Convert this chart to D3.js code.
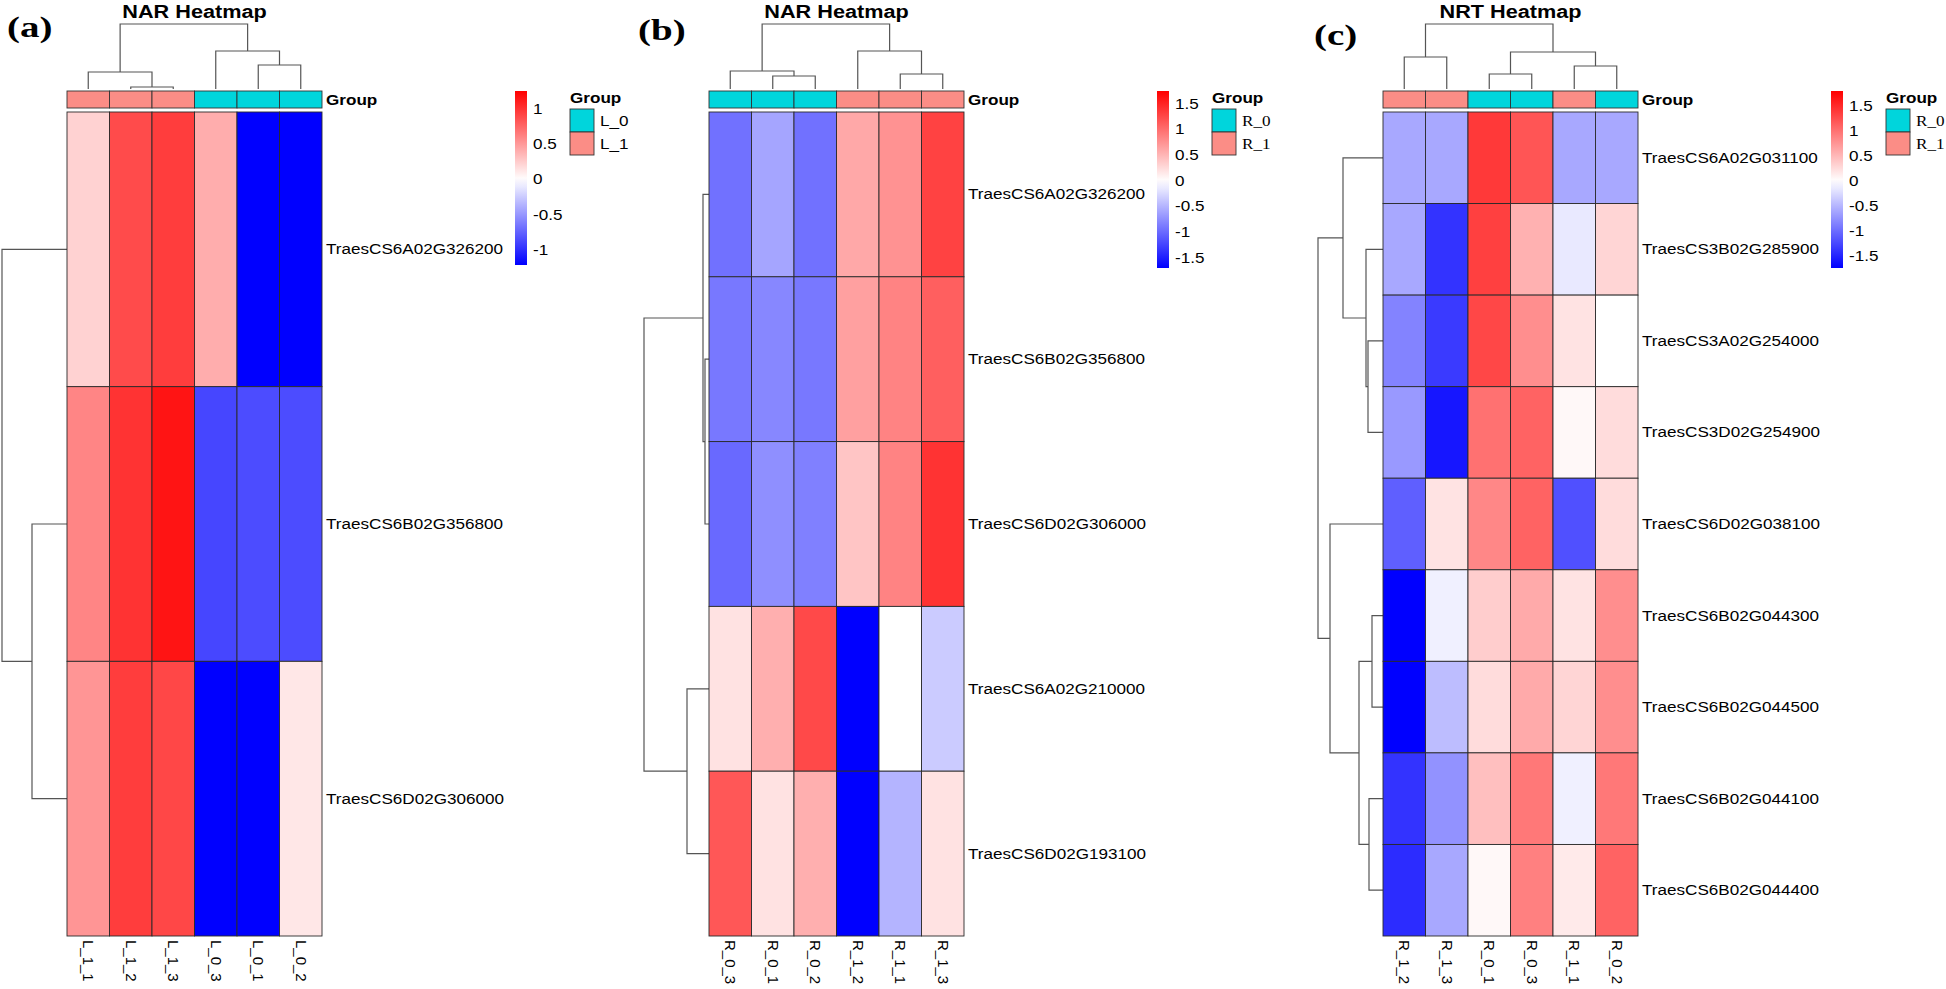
<!DOCTYPE html>
<html>
<head>
<meta charset="utf-8">
<script src="https://cdn.jsdelivr.net/npm/d3@7"></script>
<style>
  body { margin: 0; background: #fff; }
  svg { display: block; font-family: "Liberation Sans", Arial, sans-serif; }
</style>
</head>
<body>
<svg id="chart" width="1946" height="989"></svg>
<script>
// ---- panel (a): NAR, leaf samples ----
const rowsA = ["TraesCS6A02G326200", "TraesCS6B02G356800", "TraesCS6D02G306000"];
const colsA = ["L_1_1", "L_1_2", "L_1_3", "L_0_3", "L_0_1", "L_0_2"];
const groupsA = ["L_1", "L_1", "L_1", "L_0", "L_0", "L_0"];
const valuesA = [
  [0.22, 0.88, 0.95, 0.40, -1.21, -1.21],
  [0.60, 1.00, 1.15, -0.88, -0.85, -0.85],
  [0.52, 0.95, 0.90, -1.21, -1.21, 0.12]
];
// trees: [height, left, right], leaves are indices
const rowTreeA = [65, 0, [35, 1, 2]];
const colTreeA = [65, [17, 0, [2, 1, 2]], [38, 3, [24, 4, 5]]];
const legendDomainA = [-1.21, 1.25];
const legendTicksA = [1, 0.5, 0, -0.5, -1];
const legendGroupsA = ["L_0", "L_1"];

// ---- panel (b): NAR, root samples ----
const rowsB = ["TraesCS6A02G326200", "TraesCS6B02G356800", "TraesCS6D02G306000", "TraesCS6A02G210000", "TraesCS6D02G193100"];
const colsB = ["R_0_3", "R_0_1", "R_0_2", "R_1_2", "R_1_1", "R_1_3"];
const groupsB = ["R_0", "R_0", "R_0", "R_1", "R_1", "R_1"];
const valuesB = [
  [-0.95, -0.60, -0.95, 0.60, 0.75, 1.30],
  [-0.90, -0.80, -0.90, 0.65, 0.85, 1.10],
  [-1.00, -0.75, -0.85, 0.40, 0.85, 1.40],
  [0.20, 0.55, 1.25, -1.70, 0.00, -0.35],
  [1.15, 0.20, 0.55, -1.70, -0.50, 0.20]
];
const rowTreeB = [65, [6, 0, [4, 1, 2]], [22, 3, 4]];
const colTreeB = [65, [18, 0, [13, 1, 2]], [38, 3, [15, 4, 5]]];
const legendDomainB = [-1.7, 1.75];
const legendTicksB = [1.5, 1, 0.5, 0, -0.5, -1, -1.5];
const legendGroupsB = ["R_0", "R_1"];

// ---- panel (c): NRT, root samples ----
const rowsC = ["TraesCS6A02G031100", "TraesCS3B02G285900", "TraesCS3A02G254000", "TraesCS3D02G254900", "TraesCS6D02G038100",
  "TraesCS6B02G044300", "TraesCS6B02G044500", "TraesCS6B02G044100", "TraesCS6B02G044400"];
const colsC = ["R_1_2", "R_1_3", "R_0_1", "R_0_3", "R_1_1", "R_0_2"];
const groupsC = ["R_1", "R_1", "R_0", "R_0", "R_1", "R_0"];
const valuesC = [
  [-0.60, -0.60, 1.40, 1.20, -0.60, -0.60],
  [-0.60, -1.40, 1.35, 0.55, -0.15, 0.30],
  [-0.85, -1.35, 1.30, 0.80, 0.20, 0.00],
  [-0.70, -1.60, 1.00, 1.10, 0.05, 0.25],
  [-1.10, 0.20, 0.85, 1.10, -1.20, 0.25],
  [-1.85, -0.10, 0.35, 0.60, 0.20, 0.80],
  [-1.80, -0.45, 0.25, 0.60, 0.30, 0.80],
  [-1.40, -0.75, 0.45, 0.95, -0.10, 0.95],
  [-1.45, -0.60, 0.05, 0.90, 0.15, 1.10]
];
const rowTreeC = [65, [40, 0, [17, 1, [15, 2, 3]]], [53, 4, [24, [11, 5, 6], [14, 7, 8]]]];
const colTreeC = [65, [32, 0, 1], [37, [15, 2, 3], [23, 4, 5]]];
const legendDomainC = [-1.75, 1.8];
const legendTicksC = [1.5, 1, 0.5, 0, -0.5, -1, -1.5];
const legendGroupsC = ["R_0", "R_1"];

const groupColor = { L_0: "#00d5dc", L_1: "#fb8d86", R_0: "#00d5dc", R_1: "#fb8d86" };

const svg = d3.select("#chart");
const SX = 1.14;           // source figure is stretched horizontally
const heatTop = 112, heatBottom = 936;
const cellW = 42.5;
const dendroH = 65;

function stretchedText(g, x, y, txt) {
  return g.append("text")
    .attr("transform", `translate(${x},${y}) scale(${SX},1)`)
    .text(txt);
}

function drawTree(g, tree, pos, hScale, vertical, base) {
  const segs = [];
  function walk(node) {
    if (typeof node === "number") return { p: pos(node), h: 0 };
    const [h, l, r] = node;
    const a = walk(l), b = walk(r);
    segs.push({ a, b, h });
    return { p: (a.p + b.p) / 2, h };
  }
  walk(tree);
  const path = d3.path();
  segs.forEach(({ a, b, h }) => {
    if (vertical) {
      path.moveTo(a.p, base - hScale(a.h));
      path.lineTo(a.p, base - hScale(h));
      path.lineTo(b.p, base - hScale(h));
      path.lineTo(b.p, base - hScale(b.h));
    } else {
      path.moveTo(base - hScale(a.h), a.p);
      path.lineTo(base - hScale(h), a.p);
      path.lineTo(base - hScale(h), b.p);
      path.lineTo(base - hScale(b.h), b.p);
    }
  });
  g.append("path").attr("d", path.toString())
    .attr("fill", "none").attr("stroke", "#555").attr("stroke-width", 1.2);
}

function drawPanel(p) {
  const g = svg.append("g");
  const x0 = p.x0;
  const x = d3.scaleBand().domain(d3.range(p.cols.length)).range([x0, x0 + cellW * p.cols.length]);
  const y = d3.scaleBand().domain(d3.range(p.rows.length)).range([heatTop, heatBottom]);
  const color = d3.scaleLinear().domain([p.domain[0], 0, p.domain[1]]).range(["#0000ff", "#ffffff", "#ff0000"]);
  const hScale = d3.scaleLinear().domain([0, 65]).range([0, dendroH]);
  const xEnd = x0 + cellW * p.cols.length;

  // panel tag
  g.append("text")
    .attr("transform", `translate(${p.tagX},${p.tagY}) scale(1.3,1)`)
    .attr("font-family", "'Liberation Serif', 'Times New Roman', serif")
    .attr("font-weight", "bold").attr("font-size", 30)
    .text(p.tag);

  // title
  g.append("text")
    .attr("transform", `translate(${(x0 + xEnd) / 2},18) scale(${SX},1)`)
    .attr("text-anchor", "middle").attr("font-weight", "bold").attr("font-size", 19)
    .text(p.title);

  // dendrograms
  drawTree(g, p.colTree, i => x(i) + x.bandwidth() / 2, hScale, true, 89);
  drawTree(g, p.rowTree, i => y(i) + y.bandwidth() / 2, hScale, false, x0);

  // group annotation bar
  g.selectAll(".grp").data(p.groups).join("rect")
    .attr("x", (d, i) => x(i)).attr("y", 91)
    .attr("width", x.bandwidth()).attr("height", 17)
    .attr("fill", d => groupColor[d])
    .attr("stroke", "#333").attr("stroke-width", 0.9);
  stretchedText(g, xEnd + 4, 105, "Group")
    .attr("font-weight", "bold").attr("font-size", 15);

  // heatmap cells
  const cells = [];
  p.values.forEach((row, r) => row.forEach((v, c) => cells.push({ r, c, v })));
  g.selectAll(".cell").data(cells).join("rect")
    .attr("x", d => x(d.c)).attr("y", d => y(d.r))
    .attr("width", x.bandwidth()).attr("height", y.bandwidth())
    .attr("fill", d => color(d.v))
    .attr("stroke", "#2a2a2a").attr("stroke-width", 0.9);

  // row labels
  p.rows.forEach((name, i) => {
    stretchedText(g, xEnd + 4, y(i) + y.bandwidth() / 2 + 5, name).attr("font-size", 15);
  });

  // column labels (rotated)
  g.selectAll(".clab").data(p.cols).join("text")
    .attr("transform", (d, i) => `translate(${x(i) + x.bandwidth() / 2 - 5},${heatBottom + 4}) rotate(90)`)
    .attr("font-size", 15)
    .text(d => d);

  // colour legend
  const lx = xEnd + 193;
  const ly = d3.scaleLinear().domain(p.domain).range([p.barBottom, 91]);
  const gradId = "grad" + p.tag.replace(/\W/g, "");
  const grad = svg.append("defs").append("linearGradient")
    .attr("id", gradId).attr("x1", 0).attr("x2", 0).attr("y1", 1).attr("y2", 0);
  d3.range(0, 1.0001, 0.05).forEach(t => {
    grad.append("stop").attr("offset", t)
      .attr("stop-color", color(p.domain[0] + t * (p.domain[1] - p.domain[0])));
  });
  g.append("rect").attr("x", lx).attr("y", 91).attr("width", 12)
    .attr("height", p.barBottom - 91).attr("fill", `url(#${gradId})`);
  p.ticks.forEach(t => {
    stretchedText(g, lx + 18, ly(t) + 5, String(t)).attr("font-size", 15);
  });

  // group legend
  const gx = lx + 55;
  stretchedText(g, gx, 103, "Group").attr("font-weight", "bold").attr("font-size", 15);
  p.legendGroups.forEach((k, i) => {
    g.append("rect").attr("x", gx).attr("y", 109 + i * 23)
      .attr("width", 24).attr("height", 23)
      .attr("fill", groupColor[k]).attr("stroke", "#333").attr("stroke-width", 0.9);
    stretchedText(g, gx + 30, 109 + i * 23 + 17, k)
      .attr("font-size", 15)
      .attr("font-family", p.serifLegend ? "'Liberation Serif', 'Times New Roman', serif" : null);
  });
}

drawPanel({ tag: "(a)", tagX: 7, tagY: 37, title: "NAR Heatmap", x0: 67,
  rows: rowsA, cols: colsA, groups: groupsA, values: valuesA,
  rowTree: rowTreeA, colTree: colTreeA, domain: legendDomainA, ticks: legendTicksA,
  legendGroups: legendGroupsA, barBottom: 265, serifLegend: false });
drawPanel({ tag: "(b)", tagX: 638, tagY: 40, title: "NAR Heatmap", x0: 709,
  rows: rowsB, cols: colsB, groups: groupsB, values: valuesB,
  rowTree: rowTreeB, colTree: colTreeB, domain: legendDomainB, ticks: legendTicksB,
  legendGroups: legendGroupsB, barBottom: 268, serifLegend: true });
drawPanel({ tag: "(c)", tagX: 1314, tagY: 45, title: "NRT Heatmap", x0: 1383,
  rows: rowsC, cols: colsC, groups: groupsC, values: valuesC,
  rowTree: rowTreeC, colTree: colTreeC, domain: legendDomainC, ticks: legendTicksC,
  legendGroups: legendGroupsC, barBottom: 268, serifLegend: true });
</script>
</body>
</html>
